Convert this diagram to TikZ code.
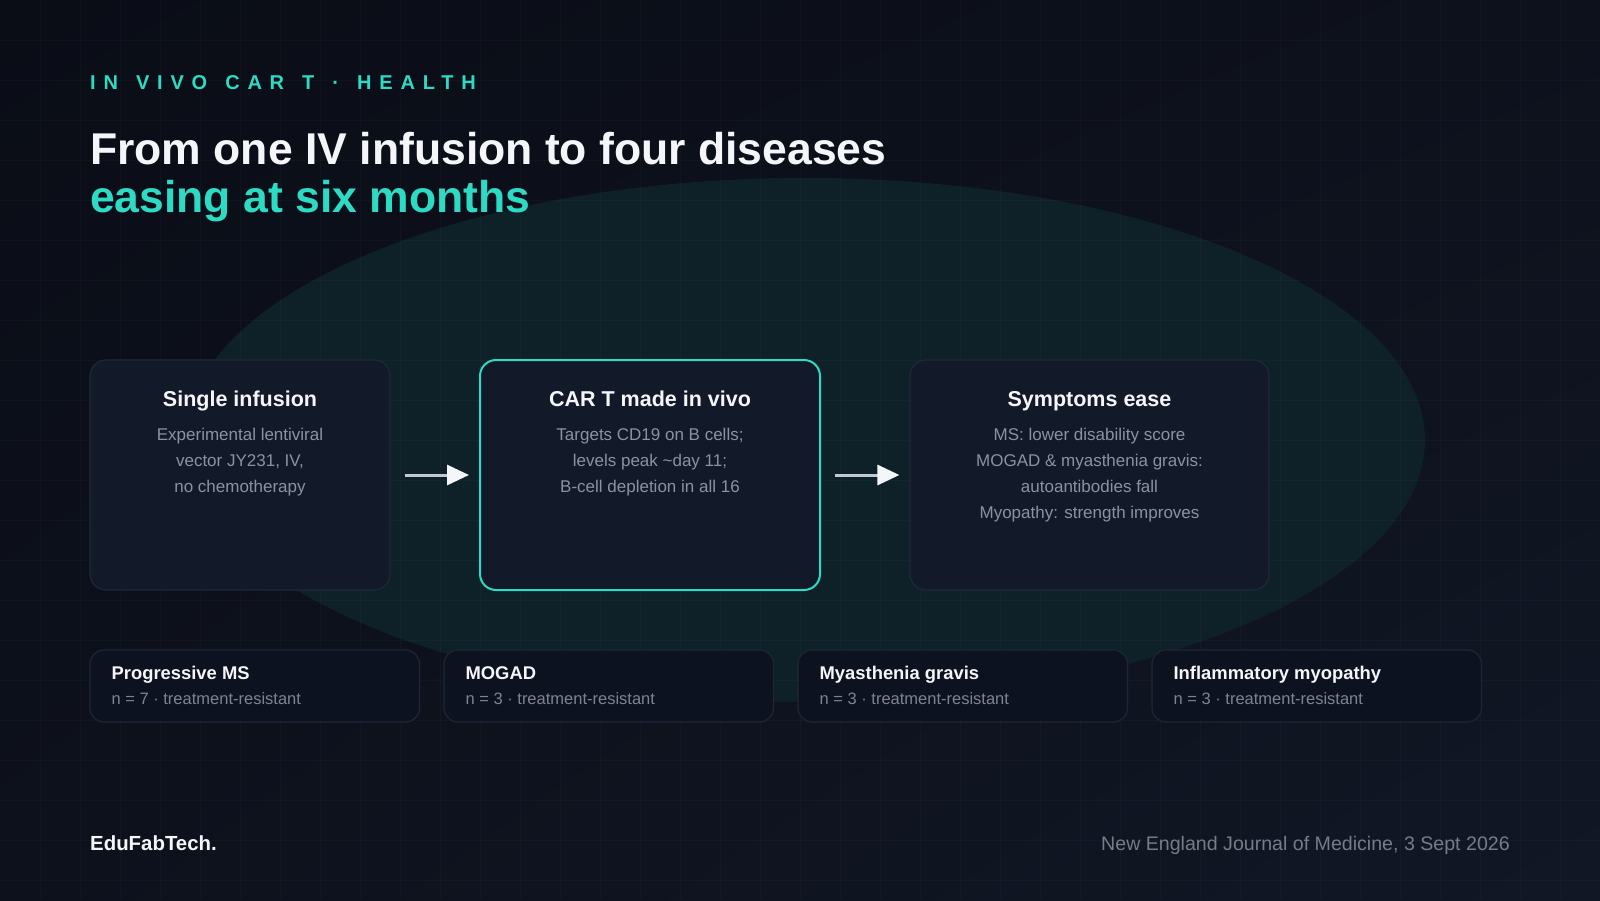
\documentclass[tikz,border=0pt]{standalone}
\usepackage{fontspec}
\setmainfont{Liberation Sans}
\newfontfamily\kickerfont[LetterSpace=39,WordSpace=1.35]{Liberation Sans}
\usetikzlibrary{arrows.meta,positioning,shadings}

\definecolor{bgdark}{HTML}{0A0D16}
\definecolor{bgmid}{HTML}{0D111C}
\definecolor{bglight}{HTML}{111725}
\definecolor{glow}{HTML}{0F2128}
\definecolor{accent}{HTML}{2DDBC4}
\definecolor{panel}{HTML}{121928}
\definecolor{panelline}{HTML}{1F2839}
\definecolor{cardfill}{HTML}{0D1220}
\definecolor{cardline}{HTML}{1E2636}
\definecolor{muted}{HTML}{8A93A3}
\definecolor{softwhite}{HTML}{F4F6F9}
\definecolor{arrowline}{HTML}{C3C9D3}

\tikzset{
  stepbox/.style={draw=panelline,line width=1.2pt,fill=panel,rounded corners=16pt,
    inner sep=0pt,minimum height=230pt},
  steptitle/.style={anchor=base,inner sep=0pt,text=softwhite,
    font=\bfseries\fontsize{21.5}{26}\selectfont},
  % base of a multi-line node is its last line
  stepbody/.style={anchor=base,inner sep=0pt,align=center,text=muted,
    font=\fontsize{17}{26}\selectfont},
  casebox/.style={draw=cardline,line width=1.2pt,fill=cardfill,rounded corners=14pt,
    inner sep=0pt,minimum width=329.5pt,minimum height=72pt},
  casetitle/.style={anchor=base west,inner sep=0pt,text=softwhite,
    font=\bfseries\fontsize{18.4}{22}\selectfont},
  casenote/.style={anchor=base west,inner sep=0pt,text=muted!90!black,
    font=\fontsize{16.5}{20}\selectfont},
  flow/.style={line width=3pt,draw=arrowline,shorten <=14pt,shorten >=10pt,
    -{Triangle[length=22pt,width=20pt,color=softwhite]}},
  gridline/.style={white,opacity=0.022,line width=1pt}
}

\begin{document}
\begin{tikzpicture}[x=1pt,y=-1pt]
  \useasboundingbox (0,0) rectangle (1600,900);
  % backdrop
  \shade[upper left=bgdark,upper right=bgmid,lower left=bgmid,lower right=bglight]
    (0,0) rectangle (1600,900);
  \fill[glow] (805,440) ellipse [x radius=620pt,y radius=262pt];
  \foreach \gx in {40,80,...,1560} \draw[gridline] (\gx,0) -- (\gx,900);
  \foreach \gy in {40,80,...,880} \draw[gridline] (0,\gy) -- (1600,\gy);

  % heading
  \node[anchor=base west,inner sep=0pt,text=accent,font=\kickerfont\bfseries\fontsize{20}{22}\selectfont]
    (kicker) at (90,89) {IN VIVO CAR T · HEALTH};
  \node[anchor=base west,inner sep=0pt,text=softwhite,font=\bfseries\fontsize{44.5}{50}\selectfont]
    (headA) at (90,164.5) {From one IV infusion to four diseases};
  \node[anchor=base west,inner sep=0pt,text=accent,font=\bfseries\fontsize{44.5}{50}\selectfont]
    (headB) at (90,212) {easing at six months};

  % three steps
  \node[stepbox,minimum width=300pt] (infusion) at (240,475) {};
  \node[stepbox,minimum width=340pt,draw=accent,line width=2pt] (invivo) at (650,475) {};
  \node[stepbox,minimum width=359pt] (relief) at (1089.5,475) {};
  \draw[flow] (infusion.east) -- (invivo.west);
  \draw[flow] (invivo.east) -- (relief.west);

  \node[steptitle] (infusion-t) at (240,406) {Single infusion};
  \node[stepbody] (infusion-b) at (240,492.5)
    {Experimental lentiviral\\vector JY231, IV,\\no chemotherapy};
  \node[steptitle] (invivo-t) at (650,406) {CAR T made in vivo};
  \node[stepbody] (invivo-b) at (650,492.5)
    {Targets CD19 on B cells;\\levels peak \textasciitilde day 11;\\B-cell depletion in all 16};
  \node[steptitle] (relief-t) at (1089.5,406) {Symptoms ease};
  \node[stepbody] (relief-b) at (1089.5,518.5)
    {MS: lower disability score\\MOGAD \& myasthenia gravis:\\autoantibodies fall\\Myopathy: strength improves};

  % four cohorts
  \foreach \cx/\cname/\ctitle/\cn in {254.75/ms/Progressive MS/7,608.75/mogad/MOGAD/3,
      962.75/mg/Myasthenia gravis/3,1316.75/myo/Inflammatory myopathy/3}{
    \node[casebox] (\cname) at (\cx,686) {};
    \node[casetitle] (\cname-t) at ([xshift=22pt,yshift=6.5pt]\cname.west) {\ctitle};
    \node[casenote] (\cname-n) at ([xshift=22pt,yshift=-18pt]\cname.west)
      {n = \cn\ · treatment-resistant};
  }

  % footer
  \node[anchor=base west,inner sep=0pt,text=softwhite,font=\bfseries\fontsize{20.4}{24}\selectfont]
    (brand) at (90,850) {EduFabTech.};
  \node[anchor=base east,inner sep=0pt,text=muted!85!black,font=\fontsize{19.6}{24}\selectfont]
    (source) at (1510,850) {New England Journal of Medicine, 3 Sept 2026};
\end{tikzpicture}
\end{document}
